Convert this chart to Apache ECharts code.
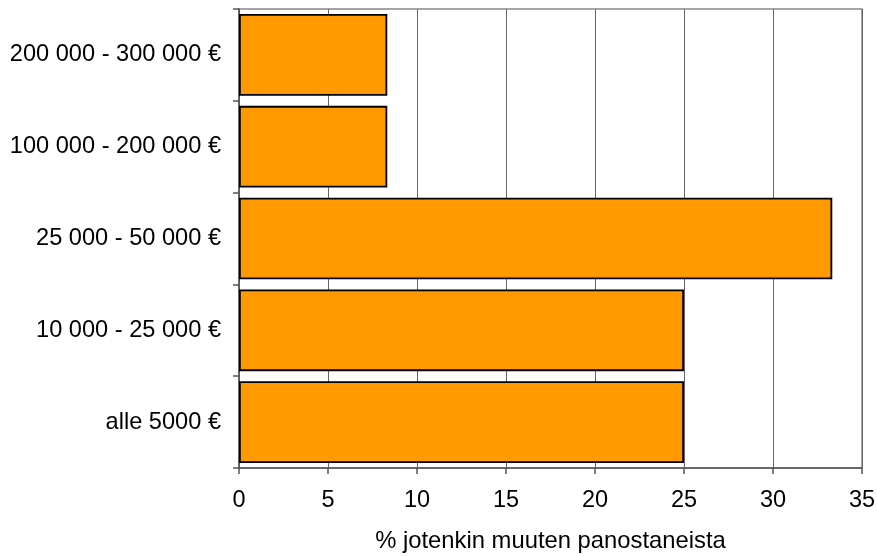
<!DOCTYPE html>
<html><head><meta charset="utf-8">
<script src="https://cdn.jsdelivr.net/npm/echarts@6/dist/echarts.min.js"></script>
<style>html,body{margin:0;padding:0;background:#fff}#c{width:877px;height:556px}</style>
</head><body><div id="c"></div>
<script>
const categories = ['alle 5000 €', '10 000 - 25 000 €', '25 000 - 50 000 €', '100 000 - 200 000 €', '200 000 - 300 000 €'];
const values = [25, 25, 33.33, 8.33, 8.33];
const xTicks = [0, 5, 10, 15, 20, 25, 30, 35];
const xTitle = '% jotenkin muuten panostaneista';

const chart = echarts.init(document.getElementById('c'), null, {renderer: 'canvas'});
const font = 'Liberation Sans, Arial, sans-serif';
chart.setOption({
  animation: false,
  backgroundColor: '#fff',
  grid: {left: 239, right: 15, top: 9, bottom: 88, show: true, borderColor: '#888', borderWidth: 1.5, containLabel: false, outerBoundsMode: 'none'},
  xAxis: {
    type: 'value', min: xTicks[0], max: xTicks[xTicks.length - 1], interval: 5,
    name: xTitle, nameLocation: 'middle', nameGap: 61,
    nameTextStyle: {fontFamily: font, fontSize: 23.8, color: '#000'},
    axisLine: {show: true, lineStyle: {color: '#555', width: 1.5}},
    axisTick: {show: true, length: 6, lineStyle: {color: '#555', width: 1.5}},
    axisLabel: {fontFamily: font, fontSize: 23.5, color: '#000', margin: 21},
    splitLine: {show: true, lineStyle: {color: '#666', width: 1}}
  },
  yAxis: {
    type: 'category', data: categories,
    axisLine: {show: true, lineStyle: {color: '#555', width: 1.5}},
    axisTick: {show: true, length: 6, alignWithLabel: false, lineStyle: {color: '#555', width: 1.5}},
    axisLabel: {fontFamily: font, fontSize: 23.6, color: '#000', margin: 18},
    splitLine: {show: false}
  },
  series: [{
    type: 'bar', data: values, barCategoryGap: '11%',
    itemStyle: {color: '#FF9900', borderColor: '#000', borderWidth: 1.8}
  }]
});
</script></body></html>
